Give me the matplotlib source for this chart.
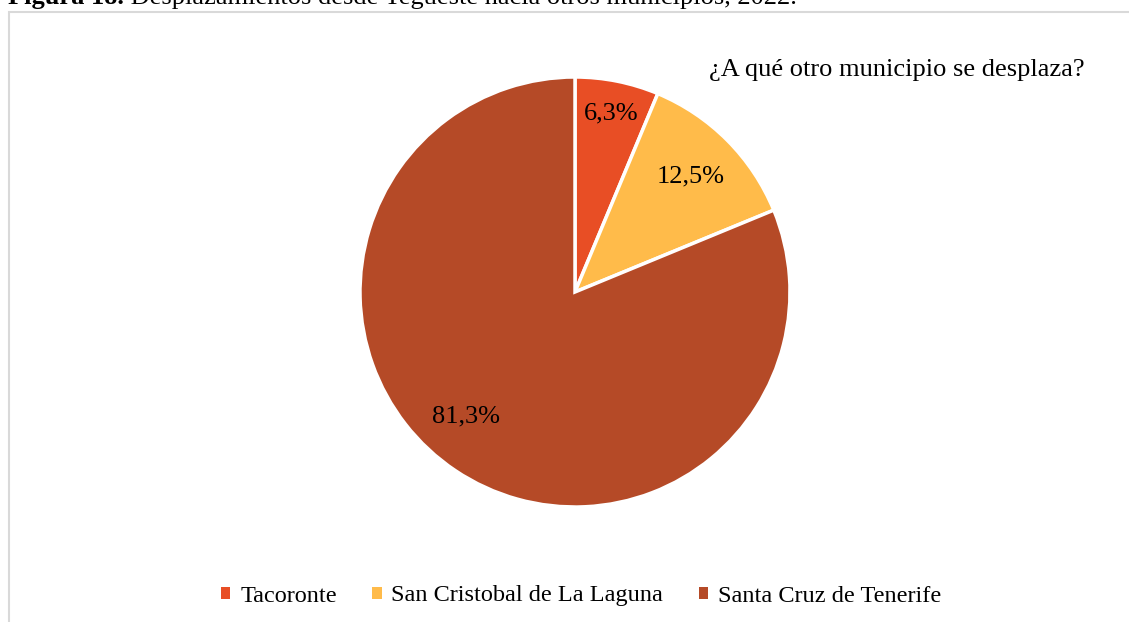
"""
Pie chart: desplazamientos desde Tegueste hacia otros municipios
"""
import numpy as np
import matplotlib
matplotlib.use("Agg")
import matplotlib.pyplot as plt
from matplotlib.patches import Patch, Rectangle

# data
municipios = ["Tacoronte", "San Cristobal de La Laguna", "Santa Cruz de Tenerife"]
porcentajes = [6.3, 12.5, 81.3]
colores = ["#E84E25", "#FFBB4A", "#B54A27"]

plt.rcParams['font.family'] = ['Liberation Serif', 'DejaVu Serif']

fig = plt.figure(figsize=(11.29, 6.22), dpi=100)

# chart border (partially outside the picture, like the screenshot)
fig.patches.append(Rectangle((8.5 / 1129, -0.1), 1.2, 1 - 11.5 / 622 + 0.1,
                             transform=fig.transFigure, fill=False,
                             edgecolor="#D9D9D9", linewidth=1.5))

ax = fig.add_axes([(575 - 215) / 1129, (622 - 292 - 215) / 622, 430 / 1129, 430 / 622])

# clipped figure caption at the very top
t1 = fig.text(8 / 1129, 1 - 4 / 622, "Figura 18.", fontsize=19, fontweight='bold',
              va='baseline', ha='left')
ax.annotate(" Desplazamientos desde Tegueste hacia otros municipios, 2022.",
            xy=(1, 0), xycoords=t1, fontsize=19, va='bottom', ha='left',
            annotation_clip=False)

wedges, texts, autotexts = ax.pie(
    porcentajes, colors=colores, startangle=90, counterclock=False,
    autopct=lambda p: "", pctdistance=0.8,
    wedgeprops=dict(edgecolor="white", linewidth=2.5))

# labels in spanish format, placed like the original
dist = [0.845, 0.76, 0.77]
for t, w, v, d in zip(autotexts, wedges, porcentajes, dist):
    ang = np.deg2rad((w.theta1 + w.theta2) / 2)
    t.set_text(("%.1f%%" % v).replace(".", ","))
    t.set_fontsize(19)
    t.set_position((d * np.cos(ang), d * np.sin(ang)))
autotexts[2].set_position((-109 / 215, -124 / 215))
ax.set_xlim(-1, 1)
ax.set_ylim(-1, 1)

fig.text(897 / 1129, 1 - 70 / 622, "¿A qué otro municipio se desplaza?",
         fontsize=19, ha='center', va='center')

handles = [Patch(facecolor=c, edgecolor='none') for c in colores]
fig.legend(handles, municipios, loc='center', bbox_to_anchor=(581 / 1129, 1 - 596 / 622),
           ncol=3, frameon=False, fontsize=17.5, handlelength=0.4, handleheight=0.4,
           handletextpad=0.4, columnspacing=1.45)

fig.savefig("out.png", dpi=100)
